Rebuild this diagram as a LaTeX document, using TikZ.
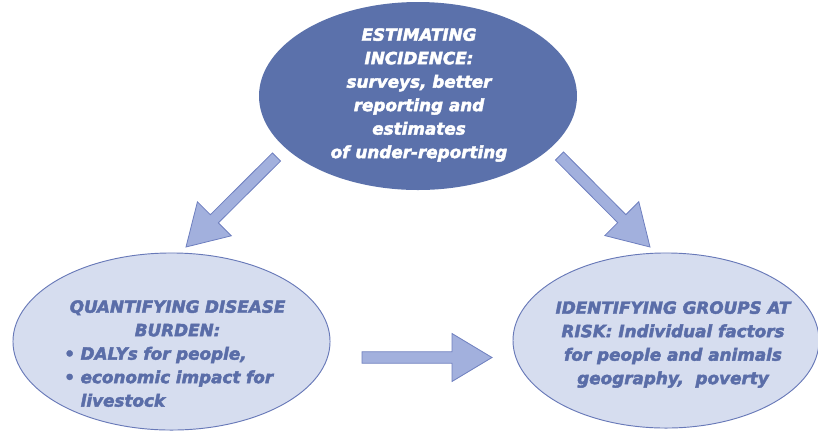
\documentclass[tikz,border=0pt]{standalone}
\usepackage{fontspec}
\setmainfont{DejaVu Sans}[BoldItalicFeatures={FakeBold=2.6}]
\usepackage{tikz}
\usetikzlibrary{shapes,calc,positioning}
\definecolor{incblue}{RGB}{91,113,171}
\definecolor{bubfill}{RGB}{214,221,239}
\definecolor{bubline}{RGB}{104,121,184}
\definecolor{bubtext}{RGB}{90,109,168}
\definecolor{arrowfill}{RGB}{162,176,221}
\definecolor{arrowline}{RGB}{110,127,191}

\begin{document}
\begin{tikzpicture}[
    x=0.75pt, y=-0.75pt,
    bubble/.style={ellipse, inner sep=0pt, line width=0.7pt},
    bubtxt/.style={inner sep=0pt, font=\fontsize{12.6}{17.6}\selectfont\bfseries\itshape},
    fatarrow/.style={fill=arrowfill, draw=arrowline, line width=0.6pt, line join=miter,
      to path={-- ($(\tikztostart)!4.3pt!90:(\tikztotarget)$)
        -- ($(\tikztotarget)!30pt!(\tikztostart)!4.3pt!90:(\tikztotarget)$)
        -- ($(\tikztotarget)!30pt!(\tikztostart)!18pt!90:(\tikztotarget)$)
        -- (\tikztotarget)
        -- ($(\tikztotarget)!30pt!(\tikztostart)!18pt!-90:(\tikztotarget)$)
        -- ($(\tikztotarget)!30pt!(\tikztostart)!4.3pt!-90:(\tikztotarget)$)
        -- ($(\tikztostart)!4.3pt!-90:(\tikztotarget)$) -- cycle}}
]
    \path[use as bounding box, clip] (0,0) rectangle (818,430);

    % Ellipses
    \node[bubble, fill=incblue, minimum width=238.5pt, minimum height=141pt] (est) at (418,96) {};
    \node[bubble, fill=bubfill, draw=bubline, minimum width=237.8pt, minimum height=132.8pt] (burden) at (171.5,341.5) {};
    \node[bubble, fill=bubfill, draw=bubline, minimum width=229.5pt, minimum height=131.3pt] (risk) at (666,340.5) {};

    % Texts
    \node[bubtxt, text=white, align=center, anchor=north] (esttxt) at (419,28)
        {ESTIMATING\\ INCIDENCE:\\ surveys, better\\ reporting and\\ estimates\\ of under-reporting};
    \node[bubtxt, text=bubtext, text width=170pt, align=center, anchor=north west] (burdentxt) at (64,300)
        {QUANTIFYING DISEASE\\ BURDEN:\\
         \makebox[170pt][l]{• DALYs for people,}\\
         \makebox[170pt][l]{• economic impact for}\\
         \makebox[170pt][l]{\phantom{• }livestock}};
    \node[bubtxt, text=bubtext, align=center, anchor=north] (risktxt) at (673,301)
        {IDENTIFYING GROUPS AT\\ RISK: Individual factors\\ for people and animals\\ geography,\ \ poverty};

    % Arrow ends
    \coordinate (a1s) at (276.5,157);
    \coordinate (a1e) at (186,247);
    \coordinate (a2s) at (559.5,156);
    \coordinate (a2e) at (650,247);
    \coordinate (a3s) at (362,357.5);
    \coordinate (a3e) at (492,357.5);

    % Arrows
    \draw[fatarrow] (a1s) to (a1e);
    \draw[fatarrow] (a2s) to (a2e);
    \draw[fatarrow] (a3s) to (a3e);

\end{tikzpicture}
\end{document}
